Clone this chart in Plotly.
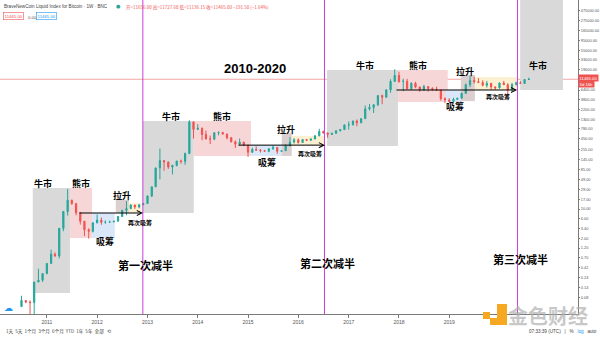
import numpy as np
import pandas as pd
import plotly.graph_objects as go
from datetime import datetime

# Monthly Bitcoin candles (BNC Liquid Index), Jul 2010 - Aug 2020
months = pd.date_range("2010-07-01", "2020-08-01", freq="MS")

opens = [
    0.05, 0.07, 0.064, 0.062, 0.19, 0.21,
    0.30, 0.52, 0.86, 0.78, 3.50, 8.74, 16.10, 13.40, 8.20, 5.14, 3.25, 2.97,
    4.72, 5.48, 4.86, 4.90, 4.95, 5.15, 6.68, 9.35, 10.20, 12.40, 11.20, 12.60,
    13.45, 20.40, 33.40, 93.0, 139.0, 129.0, 97.5, 106.2, 135.4, 133.0, 204.0, 1130.0,
    754, 800, 570, 450, 445, 630, 640, 585, 480, 385, 338, 378,
    320, 218, 254, 244, 236, 230, 263, 284, 230, 236, 314, 378,
    430, 369, 436, 416, 449, 531, 673, 624, 573, 609, 700, 745,
    963, 970, 1190, 1080, 1350, 2300, 2480, 2880, 4730, 4340, 6450, 10200,
    14100, 10200, 10300, 6900, 9250, 7500, 6400, 7730, 7020, 6630, 6310, 4020,
    3740, 3450, 3850, 4100, 5320, 8560, 10800, 10100, 9600, 8300, 9150, 7550,
    7200, 9350, 8550, 6400, 8650, 9450, 9140, 11350,
]
highs = [
    0.09, 0.07, 0.07, 0.19, 0.39, 0.30,
    0.52, 1.10, 0.95, 3.50, 8.90, 29.60, 16.60, 13.90, 8.50, 5.20, 3.50, 4.80,
    7.38, 6.30, 5.40, 5.30, 5.20, 6.75, 9.35, 15.40, 12.90, 12.60, 12.70, 13.80,
    20.40, 33.40, 95.0, 266.0, 140.0, 129.5, 111.0, 136.0, 146.0, 214.0, 1242.0, 1163.0,
    1000, 840, 710, 540, 630, 675, 650, 600, 500, 415, 460, 385,
    320, 280, 300, 260, 248, 268, 315, 284, 245, 335, 500, 468,
    460, 445, 440, 465, 550, 780, 705, 625, 630, 720, 755, 975,
    1150, 1210, 1290, 1380, 2760, 2980, 2920, 4770, 4980, 6470, 11500, 19700,
    17200, 11800, 11700, 9750, 9990, 7750, 8500, 7760, 7400, 7680, 6550, 4300,
    4110, 4200, 4120, 5600, 9100, 13900, 13200, 12300, 10900, 10500, 9500, 7750,
    9600, 10500, 9200, 9450, 10080, 10400, 11450, 12480,
]
lows = [
    0.05, 0.06, 0.01, 0.01, 0.19, 0.19,
    0.29, 0.52, 0.75, 0.68, 3.00, 7.00, 12.60, 7.10, 4.30, 2.30, 2.00, 2.80,
    4.60, 4.25, 4.50, 4.75, 4.90, 5.15, 6.50, 7.10, 9.90, 10.00, 10.40, 12.40,
    13.20, 19.10, 33.20, 50.0, 80.0, 88.0, 65.5, 101.0, 117.0, 110.0, 197.0, 455.0,
    740, 420, 440, 340, 420, 545, 565, 440, 370, 275, 320, 310,
    170, 210, 240, 215, 228, 218, 250, 200, 225, 236, 300, 350,
    350, 365, 400, 413, 440, 525, 600, 480, 570, 605, 680, 745,
    750, 930, 890, 1060, 1350, 2100, 1840, 2680, 2970, 4170, 5500, 10000,
    9400, 6000, 6600, 6450, 7050, 5800, 6100, 5900, 6100, 6200, 3600, 3150,
    3400, 3380, 3770, 4080, 5300, 7500, 9100, 9400, 7800, 7300, 6500, 6450,
    6900, 8450, 3850, 6150, 8100, 8900, 8950, 11100,
]
closes = [
    0.07, 0.064, 0.062, 0.19, 0.21, 0.30,
    0.52, 0.86, 0.78, 3.50, 8.74, 16.10, 13.40, 8.20, 5.14, 3.25, 2.97, 4.72,
    5.48, 4.86, 4.90, 4.95, 5.15, 6.68, 9.35, 10.20, 12.40, 11.20, 12.60, 13.45,
    20.40, 33.40, 93.0, 139.0, 129.0, 97.5, 106.2, 135.4, 133.0, 204.0, 1130.0, 754.0,
    800, 570, 450, 445, 630, 640, 585, 480, 385, 338, 378, 320,
    218, 254, 244, 236, 230, 263, 284, 230, 236, 314, 378, 430,
    369, 436, 416, 449, 531, 673, 624, 573, 609, 700, 745, 963,
    970, 1190, 1080, 1350, 2300, 2480, 2880, 4730, 4340, 6450, 10200, 14100,
    10200, 10300, 6900, 9250, 7500, 6400, 7730, 7020, 6630, 6310, 4020, 3740,
    3450, 3850, 4100, 5320, 8560, 10800, 10100, 9600, 8300, 9150, 7550, 7200,
    9350, 8550, 6400, 8650, 9450, 9140, 11350, 11465,
]

year_ticks = [2011, 2012, 2013, 2014, 2015, 2016, 2017, 2018, 2019, 2020]
price_ticks = [0.08, 0.14, 0.24, 0.42, 0.70, 1.20, 2.00, 3.40, 6.00, 10.00, 17.00,
               29.00, 49.00, 85.00, 145.00, 255.00, 450.00, 780.00, 1300.00,
               2200.00, 3800.00, 6400.00, 19000.00, 33000.00, 55000.00,
               95000.00, 165000.00, 275000.00, 475000.00]
halvings = ["2012-11-28", "2016-07-09", "2020-05-11"]
halving_labels = ["第一次减半", "第二次减半", "第三次减半"]

CJK = "Noto Sans CJK SC"
LAT = "Liberation Sans"
GREEN, RED = "#26a69a", "#ef5350"
MAGENTA = "#c93fd8"


def yr(t):
    """Decimal year -> ISO date string."""
    y = int(t)
    a, b = datetime(y, 1, 1), datetime(y + 1, 1, 1)
    return (a + (b - a) * (t - y)).strftime("%Y-%m-%d %H:%M")


def lg(p):
    return float(np.log10(p))


fig = go.Figure(go.Candlestick(
    x=months, open=opens, high=highs, low=lows, close=closes,
    increasing=dict(line=dict(color=GREEN, width=1), fillcolor=GREEN),
    decreasing=dict(line=dict(color=RED, width=1), fillcolor=RED),
    whiskerwidth=0, hoverinfo="skip", showlegend=False,
))

shapes = []

# Market-phase zones: (start, end, low price, high price, colour)
GRAY, PINK, BLUE, MAUVE, YELLOW = "#d9d9d9", "#f6d6d6", "#d9e7f8", "#dccfcf", "#fcf0d2"
zones = [
    (2010.72, 2011.46, 0.104, 31.3, GRAY),
    (2011.46, 2011.90, 2.07, 31.3, PINK),
    (2011.90, 2012.35, 2.07, 8.05, BLUE),
    (2012.37, 2012.63, 8.05, 16.3, MAUVE),
    (2012.63, 2012.88, 8.05, 13.8, YELLOW),
    (2012.91, 2013.92, 8.05, 1188, GRAY),
    (2013.92, 2015.06, 178, 1188, PINK),
    (2015.06, 2015.67, 178, 321, BLUE),
    (2015.67, 2015.87, 178, 619, MAUVE),
    (2015.87, 2016.53, 321, 525, YELLOW),
    (2016.57, 2017.98, 306, 18970, GRAY),
    (2017.98, 2018.97, 3340, 18970, PINK),
    (2018.93, 2019.25, 3340, 6410, BLUE),
    (2019.23, 2019.51, 3500, 14460, MAUVE),
    (2019.51, 2020.35, 6410, 12970, YELLOW),
    (2020.41, 2021.26, 6410, 2.0e6, GRAY),
]
for t0, t1, p0, p1, col in zones:
    shapes.append(dict(type="rect", xref="x", yref="y", x0=yr(t0), x1=yr(t1),
                       y0=p0, y1=p1, fillcolor=col, line=dict(width=0), layer="below"))

# halving markers
for d in halvings:
    shapes.append(dict(type="line", xref="x", yref="paper", x0=d, x1=d, y0=0, y1=1,
                       line=dict(color=MAGENTA, width=1), layer="above"))

# last price line
shapes.append(dict(type="line", xref="paper", yref="y", x0=0, x1=1,
                   y0=closes[-1], y1=closes[-1],
                   line=dict(color="#f3a6a6", width=1), layer="below"))


# watermark logo blocks (paper coords)
def px(xp, yp):
    return xp / 578.0, (314.0 - yp) / 314.0


ORANGE = "#f7a823"
for (xa, ya, xb, yb) in [(483, 312, 490, 319), (497, 304, 507, 325), (490, 318, 507, 325)]:
    x0, y0 = px(xa, yb)
    x1, y1 = px(xb, ya)
    shapes.append(dict(type="rect", xref="paper", yref="paper", x0=x0, x1=x1, y0=y0, y1=y1,
                       fillcolor=ORANGE, line=dict(width=0), layer="above"))

ann = []


def label(t, p, text, size=9, bold=True, color="black", font=CJK):
    ann.append(dict(x=yr(t), y=lg(p), xref="x", yref="y", text=f"<b>{text}</b>" if bold else text,
                    showarrow=False, font=dict(family=font, size=size, color=color)))


# phase labels
for t, p, s in [
    (2010.93, 38.9, "牛市"), (2011.68, 38.9, "熊市"), (2012.16, 1.67, "吸筹"), (2012.49, 21.4, "拉升"),
    (2013.47, 1550, "牛市"), (2014.48, 1550, "熊市"), (2015.37, 128, "吸筹"), (2015.75, 770, "拉升"),
    (2017.32, 23600, "牛市"), (2018.38, 23600, "熊市"), (2019.11, 2550, "吸筹"), (2019.31, 17800, "拉升"),
    (2020.76, 23600, "牛市"),
]:
    label(t, p, s, size=9)

for t, p in [(2012.85, 4.68), (2016.23, 209), (2019.97, 4620)]:
    label(t, p, "再次吸筹", size=6)

label(2015.14, 21100, "2010-2020", size=13, font=LAT)
for d, s, p in zip(halvings, halving_labels, [0.48, 0.54, 0.66]):
    ann.append(dict(x=d, y=lg(p), xref="x", yref="y", xshift=3, text=f"<b>{s}</b>", showarrow=False,
                    font=dict(family=CJK, size=11, color="black")))

# re-accumulation arrows
for t0, t1, p in [(2011.62, 2012.91, 8.05), (2014.78, 2016.53, 321), (2017.92, 2020.35, 6410)]:
    ann.append(dict(x=yr(t1), y=lg(p), ax=yr(t0), ay=lg(p), xref="x", yref="y",
                    axref="x", ayref="y", text="", showarrow=True, arrowhead=5,
                    arrowsize=1, arrowwidth=1, arrowcolor="black"))

# header
ann.append(dict(x=0, y=1, xref="paper", yref="paper", xanchor="left", yanchor="top",
                xshift=2, yshift=-2, showarrow=False,
                text="BraveNewCoin Liquid Index for Bitcoin · 1W · BNC",
                font=dict(family=LAT, size=4.6, color="#444")))
ann.append(dict(x=118 / 578, y=1, xref="paper", yref="paper", xanchor="center", yanchor="top",
                yshift=-1, showarrow=False, text="●", font=dict(family="DejaVu Sans", size=5, color="#26a69a")))
ann.append(dict(x=124 / 578, y=1, xref="paper", yref="paper", xanchor="left", yanchor="top",
                yshift=-2, showarrow=False,
                text="开=11656.00 高=11727.68 低=11136.15 收=11465.00 −191.50 (−1.64%)",
                font=dict(family=CJK, size=4.5, color=RED)))
ann.append(dict(x=3 / 578, y=1, xref="paper", yref="paper", xanchor="left", yanchor="top",
                yshift=-12, showarrow=False, text="11465.00", bordercolor=RED, borderwidth=0.6,
                borderpad=1, font=dict(family=LAT, size=4.3, color=RED)))
ann.append(dict(x=26 / 578, y=1, xref="paper", yref="paper", xanchor="left", yanchor="top",
                yshift=-13, showarrow=False, text="0.00", font=dict(family=LAT, size=4.3, color="#555")))
ann.append(dict(x=36 / 578, y=1, xref="paper", yref="paper", xanchor="left", yanchor="top",
                yshift=-12, showarrow=False, text="11465.00", bordercolor="#2196f3", borderwidth=0.6,
                borderpad=1, font=dict(family=LAT, size=4.3, color="#2196f3")))

# price tag on axis
ann.append(dict(x=1, y=lg(closes[-1]), xref="paper", yref="y", xanchor="left", yanchor="middle",
                yshift=1, showarrow=False, text="11465.00", bgcolor=RED, borderpad=0.6,
                font=dict(family=LAT, size=4.2, color="white")))
ann.append(dict(x=1, y=lg(closes[-1]), xref="paper", yref="y", xanchor="left", yanchor="middle",
                yshift=-5, showarrow=False, text="3d 16h", bgcolor=RED, borderpad=0.6,
                font=dict(family=LAT, size=4.2, color="white")))

# bottom toolbar
ann.append(dict(x=0, y=0, xref="paper", yref="paper", xanchor="left", yanchor="middle",
                xshift=4, yshift=-17, showarrow=False,
                text="1天  5天  1个月  3个月  6个月  YTD  1年  5年  全部   ⟲",
                font=dict(family=CJK, size=4.6, color="#444")))
ann.append(dict(x=1, y=0, xref="paper", yref="paper", xanchor="right", yanchor="middle",
                xshift=21, yshift=-17, showarrow=False,
                text="07:33:39 (UTC)   |   %   <span style='color:#2196f3'>log</span>   auto",
                font=dict(family=LAT, size=4.6, color="#444")))
ann.append(dict(x=0, y=0, xref="paper", yref="paper", xanchor="left", yanchor="middle",
                xshift=2, yshift=6, showarrow=False, text="☁",
                font=dict(family="DejaVu Sans", size=9, color="#2196f3")))

# watermark text
ann.append(dict(x=548 / 578, y=(314 - 315) / 314, xref="paper", yref="paper", xanchor="center",
                yanchor="middle", showarrow=False, text="<b>金色财经</b>",
                font=dict(family=CJK, size=20, color="rgba(175,175,175,0.7)")))

fig.update_layout(
    width=600, height=337, margin=dict(l=0, r=22, t=0, b=23),
    template="none", paper_bgcolor="white", plot_bgcolor="white", showlegend=False,
    boxgap=0.55,
    shapes=shapes, annotations=ann,
    xaxis=dict(type="date", range=[yr(2010.068), yr(2021.559)],
               rangeslider=dict(visible=False), showgrid=False, zeroline=False,
               showline=True, linecolor="#7a7a7a", linewidth=1,
               ticks="outside", ticklen=3, tickcolor="#7a7a7a",
               tickvals=[f"{y}-01-01" for y in year_ticks],
               ticktext=[str(y) for y in year_ticks],
               tickfont=dict(family=LAT, size=5, color="#555")),
    yaxis=dict(type="log", side="right", range=[-1.476, 5.929],
               showgrid=False, zeroline=False, showline=True,
               linecolor="#7a7a7a", linewidth=1, ticks="outside", ticklen=1,
               tickcolor="#7a7a7a", tickvals=price_ticks,
               ticktext=[f"{v:.2f}" for v in price_ticks],
               tickfont=dict(family=LAT, size=3.9, color="#555")),
)

fig.write_html("out.html")
